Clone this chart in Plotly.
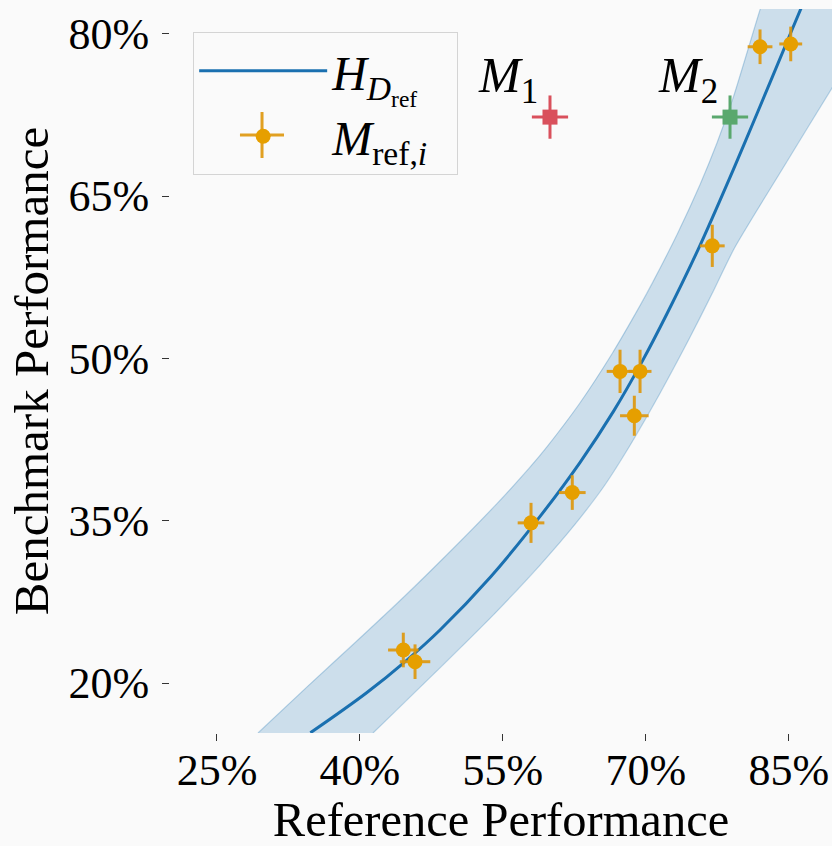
import plotly.graph_objects as go

# Reference models (orange)
ref_x = [44.55, 45.78, 57.95, 62.28, 67.29, 69.39, 68.79, 76.97, 81.98, 85.2]
ref_y = [23.05, 21.97, 34.8, 37.6, 48.8, 48.8, 44.7, 60.4, 78.8, 79.06]
ref_xerr = [1.6, 1.6, 1.4, 1.4, 1.4, 1.2, 1.5, 1.3, 1.3, 1.2]
ref_yerr = [1.6, 1.6, 1.85, 1.6, 2.0, 2.0, 1.85, 1.95, 1.6, 1.6]

# Evaluated models
m_x = [59.94, 78.83]
m_y = [72.3, 72.3]
m_xerr = [1.9, 1.9]
m_yerr = [2.0, 2.0]
m_colors = ["#d9505c", "#5aa86e"]

# Fitted curve H_Dref
curve_x = [34.8, 40.7, 44.9, 48.4, 53.7, 58.9, 63.1, 66.6, 69.6, 72.2, 75.5, 79.2, 81.7, 85.3, 86.4]
curve_y = [15.4, 19.1, 22.1, 24.9, 29.8, 35.4, 40.4, 45.1, 49.7, 54.1, 60.1, 67.5, 72.7, 80.3, 82.6]

# Confidence band edges (upper-left edge, lower-right edge)
band_upper_x = [29.3, 34.4, 39.7, 44.9, 50.2, 54.4, 57.8, 59.6, 63.1, 66.5, 69.4, 70.7, 73.3, 75.7, 77.5, 79.2, 82.0, 83.0, 92.0]
band_upper_y = [15.38, 19.6, 23.9, 28.2, 32.8, 36.6, 39.9, 41.8, 45.9, 50.5, 54.9, 57.0, 61.5, 66.1, 70.0, 74.2, 82.29, 85.0, 86.0]
band_lower_x = [41.37, 43.5, 48.4, 54.0, 58.9, 62.6, 65.7, 68.3, 71.5, 74.6, 76.9, 79.3, 84.6, 89.53, 92.0]
band_lower_y = [15.38, 17.2, 21.4, 26.3, 30.9, 34.7, 38.3, 41.9, 46.8, 51.9, 55.9, 60.2, 67.9, 74.99, 78.5]

tick_vals = [25, 40, 55, 70, 85]
tick_text = ["25%", "40%", "55%", "70%", "85%"]
ytick_vals = [20, 35, 50, 65, 80]
ytick_text = ["20%", "35%", "50%", "65%", "80%"]

FONT = "Liberation Serif"
BLUE = "#1a70b0"
ORANGE = "#E69F00"
ERR_ORANGE = "rgba(222,150,10,0.9)"
BG = "#fafafa"

fig = go.Figure()

poly_x = band_upper_x + band_lower_x[::-1]
poly_y = band_upper_y + band_lower_y[::-1]
fig.add_trace(go.Scatter(
    x=poly_x, y=poly_y, fill="toself", mode="lines",
    fillcolor="rgba(31,119,180,0.21)",
    line=dict(color="rgba(31,119,180,0.28)", width=1.2, shape="spline", smoothing=0.6),
    hoverinfo="skip", showlegend=False))

fig.add_trace(go.Scatter(
    x=curve_x, y=curve_y, mode="lines",
    line=dict(color=BLUE, width=3, shape="spline", smoothing=1.0),
    name="<i>H</i><sub><i>D</i><sub>ref</sub></sub>"))

fig.add_trace(go.Scatter(
    x=ref_x, y=ref_y, mode="markers",
    marker=dict(size=15, color=ORANGE),
    error_x=dict(type="data", array=ref_xerr, color=ERR_ORANGE, thickness=3, width=0),
    error_y=dict(type="data", array=ref_yerr, color=ERR_ORANGE, thickness=3, width=0),
    name="<i>M</i><sub>ref,<i>i</i></sub>&nbsp;&nbsp;"))

for i in range(len(m_x)):
    fig.add_trace(go.Scatter(
        x=[m_x[i]], y=[m_y[i]], mode="markers",
        marker=dict(size=15, symbol="square", color=m_colors[i]),
        error_x=dict(type="data", array=[m_xerr[i]], color=m_colors[i], thickness=3, width=0),
        error_y=dict(type="data", array=[m_yerr[i]], color=m_colors[i], thickness=3, width=0),
        showlegend=False))
    fig.add_annotation(
        x=m_x[i], y=m_y[i], text="<i>M</i><sub>%d</sub>" % (i + 1),
        showarrow=False, xanchor="right", yanchor="bottom",
        xshift=-10, yshift=4, font=dict(family=FONT, size=50, color="black"))

# error-bar cross behind the legend marker (legend symbols show markers only)
fig.add_shape(type="line", xref="paper", yref="paper", x0=0.1057, x1=0.1722, y0=0.826, y1=0.826,
              line=dict(color=ERR_ORANGE, width=3), layer="above")
fig.add_shape(type="line", xref="paper", yref="paper", x0=0.139, x1=0.139, y0=0.7942, y1=0.8577,
              line=dict(color=ERR_ORANGE, width=3), layer="above")

fig.update_layout(
    width=832, height=846,
    margin=dict(l=170, r=0, t=9, b=113, autoexpand=False),
    paper_bgcolor=BG, plot_bgcolor=BG,
    font=dict(family=FONT, color="black"),
    legend=dict(
        x=0.035, y=0.968, xanchor="left", yanchor="top",
        bgcolor="rgba(0,0,0,0)", bordercolor="#d4d4d4", borderwidth=1,
        font=dict(family=FONT, size=48, color="black"),
        itemwidth=128),
    xaxis=dict(
        range=[20.07, 89.53], tickvals=tick_vals, ticktext=tick_text,
        ticks="outside", ticklen=7, tickwidth=1.2, tickcolor="#333",
        showgrid=False, zeroline=False, showline=False, automargin=False,
        tickfont=dict(family=FONT, size=44),
        ticklabelstandoff=-9,
        title=dict(text="Reference Performance", font=dict(family=FONT, size=48.5), standoff=30)),
    yaxis=dict(
        range=[15.38, 82.29], tickvals=ytick_vals, ticktext=ytick_text,
        ticks="outside", ticklen=7, tickwidth=1.2, tickcolor="#333",
        showgrid=False, zeroline=False, showline=False, automargin=False,
        tickfont=dict(family=FONT, size=44),
        ticklabelstandoff=4,
        title=dict(text="Benchmark Performance", font=dict(family=FONT, size=49), standoff=4)),
)

fig.write_html(
    "out.html",
    config={"displayModeBar": False},
    post_script="document.body.style.margin='0';document.body.style.background='%s';" % BG)
